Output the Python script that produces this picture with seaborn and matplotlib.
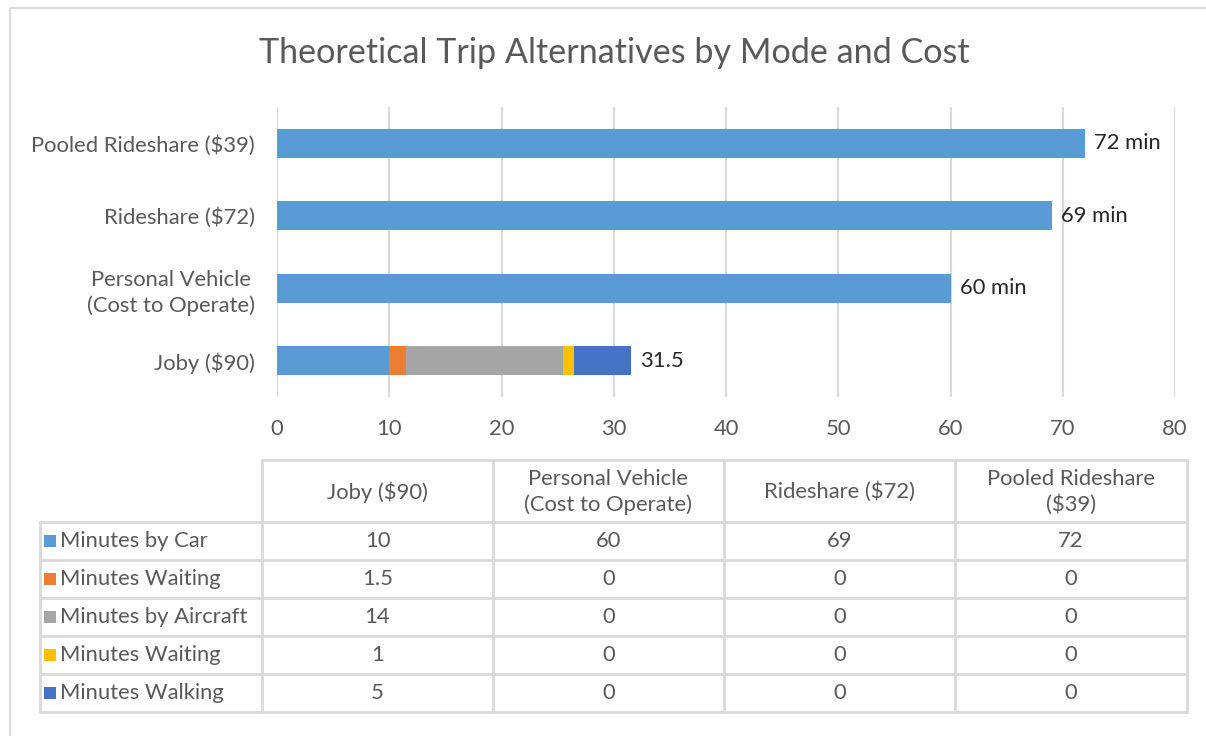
import numpy as np
import pandas as pd
import matplotlib
matplotlib.use("Agg")
import matplotlib.pyplot as plt
import seaborn as sns

# ---------------- data ----------------
categories = ["Joby ($90)", "Personal Vehicle\n(Cost to Operate)", "Rideshare ($72)", "Pooled Rideshare ($39)"]
table_headers = ["Joby ($90)", "Personal Vehicle\n(Cost to Operate)", "Rideshare ($72)", "Pooled Rideshare\n($39)"]
series_names = ["Minutes by Car", "Minutes Waiting", "Minutes by Aircraft", "Minutes Waiting", "Minutes Walking"]
minutes_by_car = [10, 60, 69, 72]
minutes_waiting_1 = [1.5, 0, 0, 0]
minutes_by_aircraft = [14, 0, 0, 0]
minutes_waiting_2 = [1, 0, 0, 0]
minutes_walking = [5, 0, 0, 0]
data_labels = ["31.5", "60 min", "69 min", "72 min"]
x_ticks = [0, 10, 20, 30, 40, 50, 60, 70, 80]
title = "Theoretical Trip Alternatives by Mode and Cost"
colors = ["#5B9BD5", "#ED7D31", "#A5A5A5", "#FFC000", "#4472C4"]

series_values = [minutes_by_car, minutes_waiting_1, minutes_by_aircraft, minutes_waiting_2, minutes_walking]

# ---------------- style ----------------
sns.set_theme(style="white")
plt.rcParams["font.family"] = ["Lato", "DejaVu Sans"]
GREY = "#595959"
LINE = "#D9D9D9"
FS = 15.8
LS = 1.3

W, H = 1206, 736
fig = plt.figure(figsize=(W / 100, H / 100), dpi=100)

# overlay axes in pixel coordinates for frame and table
ov = fig.add_axes([0, 0, 1, 1], zorder=0)
ov.set_xlim(0, W)
ov.set_ylim(H, 0)
ov.axis("off")

# chart axes
ax_l, ax_r, ax_t, ax_b = 277, 1175, 107, 397
ax = fig.add_axes([ax_l / W, 1 - ax_b / H, (ax_r - ax_l) / W, (ax_b - ax_t) / H], zorder=1)
ax.patch.set_alpha(0)

order = categories[::-1]
df = pd.DataFrame({"category": categories})
cum = np.zeros(len(categories))
cums = []
for vals in series_values:
    cum = cum + np.array(vals, dtype=float)
    cums.append(cum.copy())

# draw largest cumulative first so smaller stacks sit on top
for i in range(len(series_values) - 1, -1, -1):
    d = df.copy()
    d["value"] = cums[i]
    sns.barplot(data=d, x="value", y="category", order=order, color=colors[i],
                width=0.4, saturation=1, orient="h", ax=ax, linewidth=0, zorder=2)

# data labels on the total bars (first container drawn)
label_map = dict(zip(categories, data_labels))
ax.bar_label(ax.containers[0], labels=[label_map[c] for c in order], padding=6.5,
             fontsize=FS, color="#262626")

ax.set_xlim(0, 80)
ax.set_xticks(x_ticks)
ax.set_xlabel("")
ax.set_ylabel("")
for s in ax.spines.values():
    s.set_visible(False)
ax.set_axisbelow(True)
ax.xaxis.grid(True, color=LINE, linewidth=1.5)
ax.yaxis.grid(False)
ax.tick_params(axis="x", length=0, pad=16, labelsize=FS, labelcolor=GREY)
ax.tick_params(axis="y", length=0, pad=16, labelsize=FS, labelcolor=GREY)
for t in ax.get_yticklabels():
    t.set_multialignment("center")
    t.set_linespacing(LS)

# title
fig.text(614 / W, 1 - 53 / H, title, ha="center", va="center", fontsize=24.6, color=GREY)

# outer frame
ov.plot([10, W], [8, 8], color=LINE, lw=1.5, solid_capstyle="butt")
ov.plot([10, 10], [8, H], color=LINE, lw=1.5, solid_capstyle="butt")

# ---------------- data table ----------------
col_x = [262, 493, 724, 955, 1187]
row_label_left = 40
head_top, head_bot = 460, 522
row_h = 38
n_rows = len(series_names)
body_bot = head_bot + n_rows * row_h
lw = 2

# horizontal lines
ov.plot([col_x[0], col_x[-1]], [head_top, head_top], color=LINE, lw=lw)
for r in range(n_rows + 1):
    y = head_bot + r * row_h
    ov.plot([row_label_left, col_x[-1]], [y, y], color=LINE, lw=lw)
# vertical lines
ov.plot([row_label_left, row_label_left], [head_bot, body_bot], color=LINE, lw=lw)
for x in col_x:
    ov.plot([x, x], [head_top, body_bot], color=LINE, lw=lw)

# headers
for j, hdr in enumerate(table_headers):
    cx = (col_x[j] + col_x[j + 1]) / 2
    ov.text(cx, (head_top + head_bot) / 2 + 1, hdr, ha="center", va="center",
            fontsize=FS, color=GREY, multialignment="center", linespacing=LS)

# rows
for r, (name, vals) in enumerate(zip(series_names, series_values)):
    cy = head_bot + r * row_h + row_h / 2
    ov.add_patch(plt.Rectangle((44, cy - 6), 12, 12, color=colors[r], lw=0))
    ov.text(60, cy, name, ha="left", va="center", fontsize=FS, color=GREY)
    for j, v in enumerate(vals):
        cx = (col_x[j] + col_x[j + 1]) / 2
        ov.text(cx, cy, f"{v:g}", ha="center", va="center", fontsize=FS, color=GREY)

fig.savefig("out.png", dpi=100)
